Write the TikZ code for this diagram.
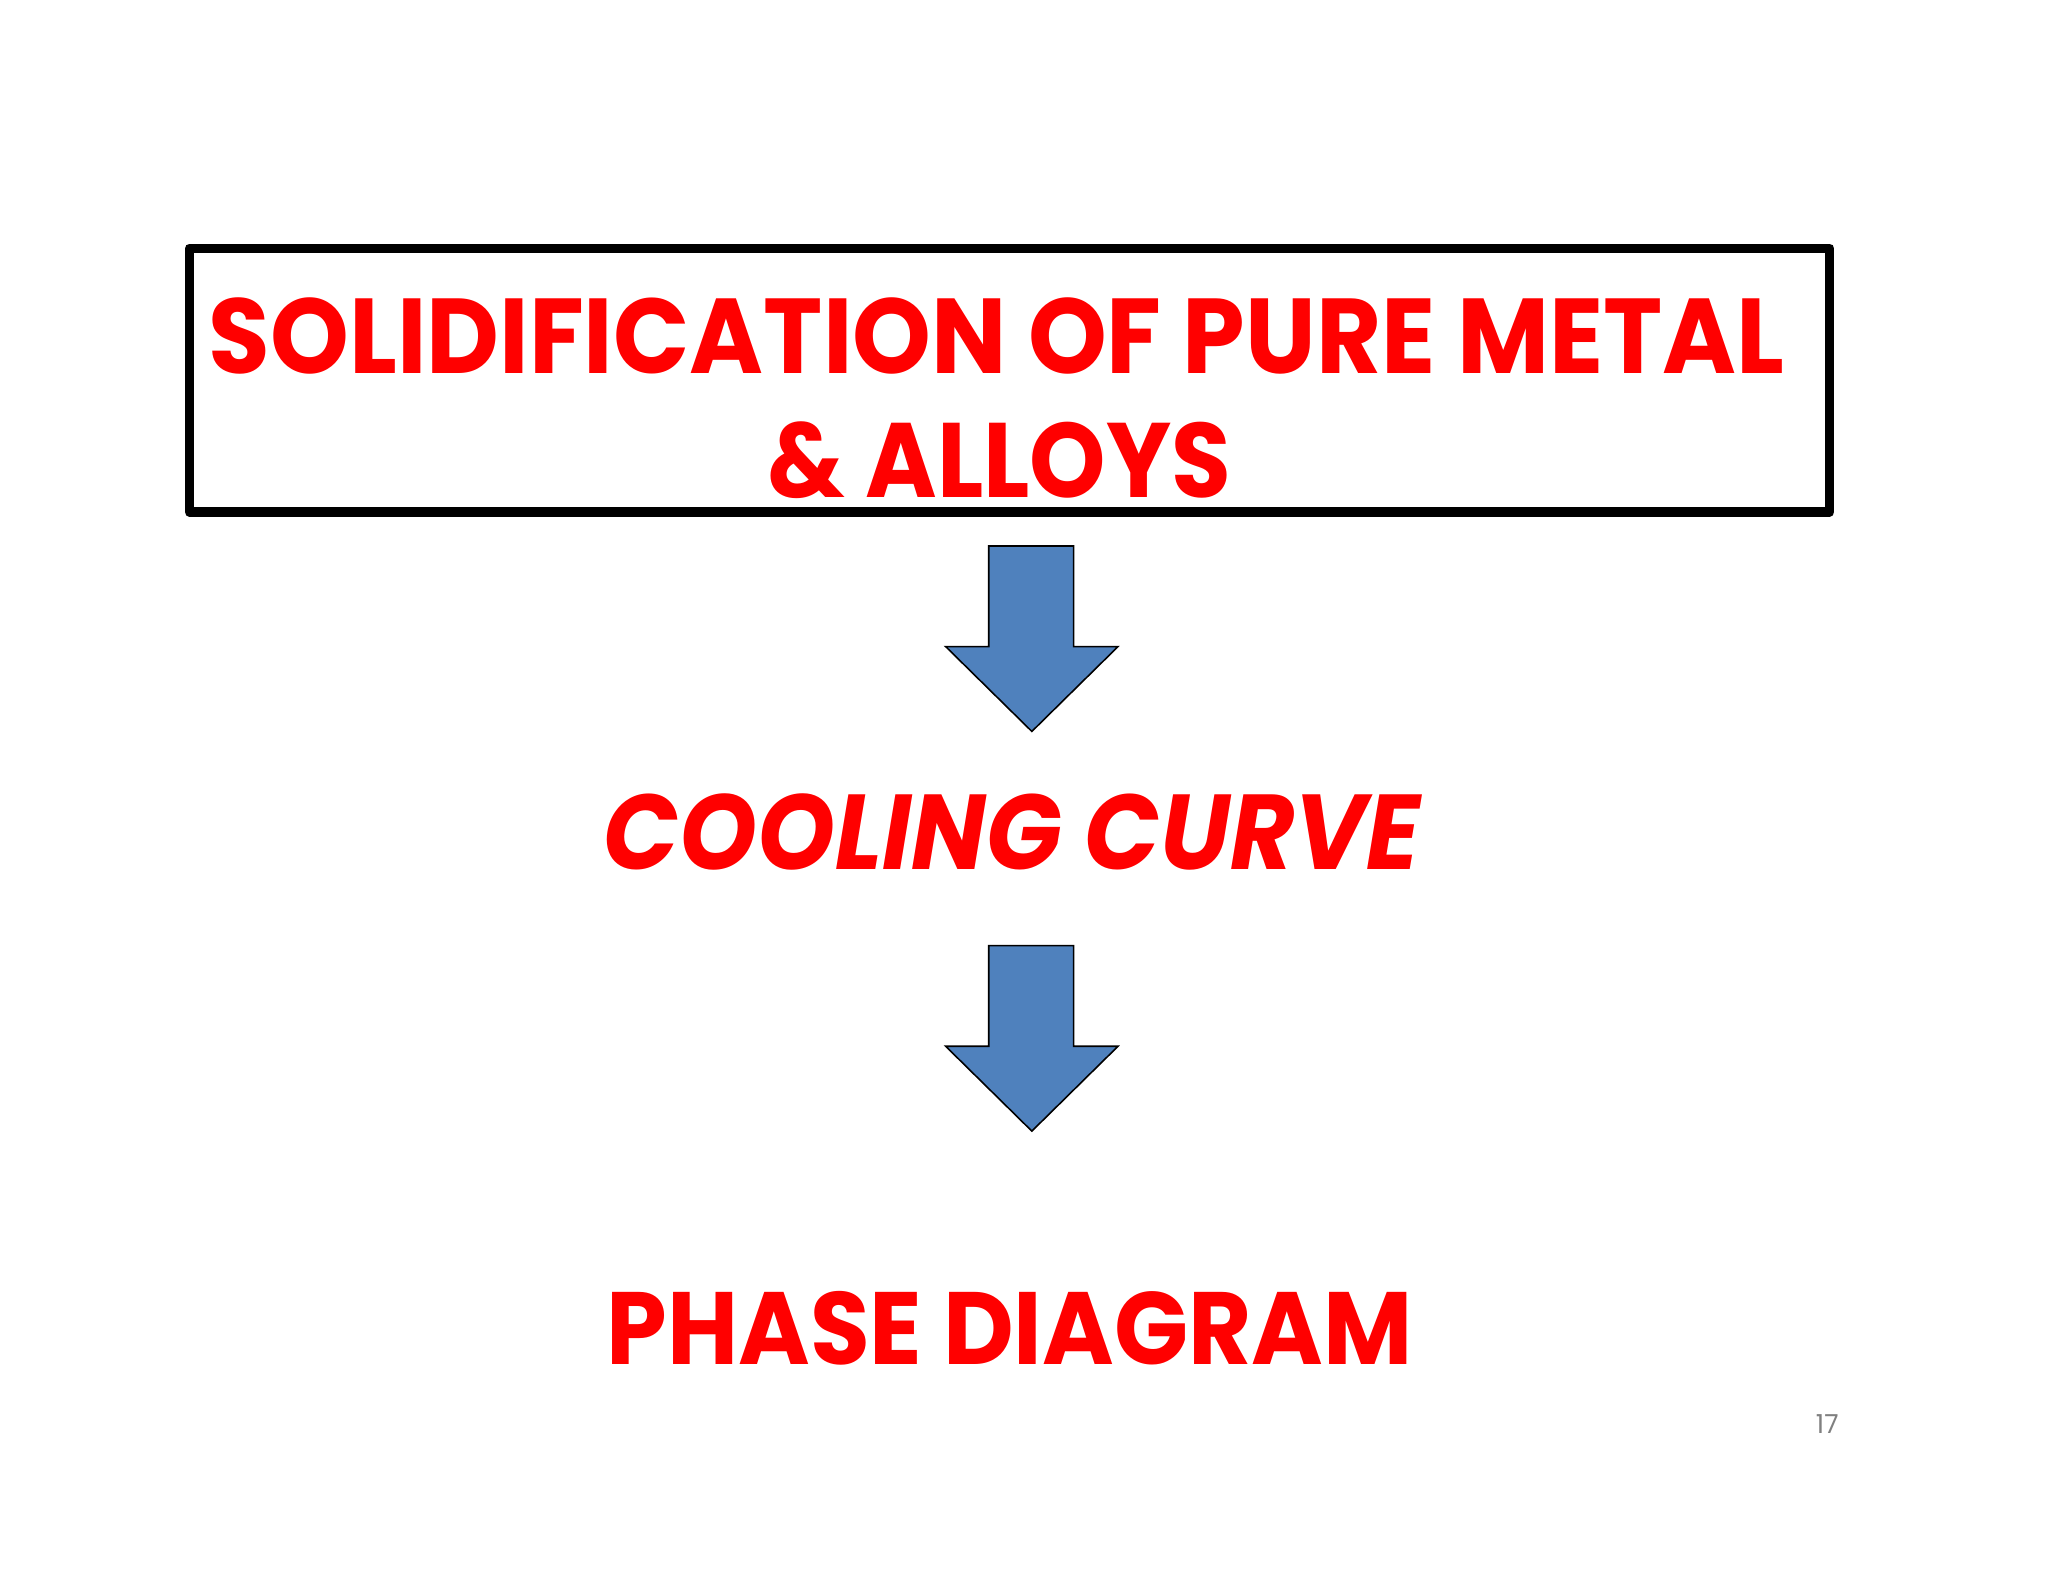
\documentclass[tikz,border=0pt]{standalone}
\usepackage{fontspec}
\setmainfont{Poppins}
\usepackage{graphicx}
\definecolor{tred}{HTML}{FF0000}
\definecolor{ablue}{HTML}{4F81BD}
\begin{document}
\begin{tikzpicture}[x=1pt,y=-1pt,
  txt/.style={text=tred,font=\bfseries,inner sep=0pt},
  barrow/.style={fill=ablue,draw=black,line width=1.2pt,line join=miter}]
\useasboundingbox[fill=white] (0,0) rectangle (1568,1211);
\draw[line width=7pt,line join=round] (145,190) rectangle (1401,392);
\node[txt] (t1) at (763,257) {\resizebox{1206pt}{58pt}{SOLIDIFICATION OF PURE METAL}};
\node[txt] (t2) at (765,352) {\resizebox{355pt}{58pt}{\& ALLOYS}};
\draw[barrow] (757,418) -- (822,418) -- (822,495) -- (856,495) -- (790,560) -- (724,495) -- (757,495) -- cycle;
\node[txt] (t3) at (775,637) {\resizebox{625pt}{58pt}{\itshape COOLING CURVE}};
\draw[barrow] (757,724) -- (822,724) -- (822,801) -- (856,801) -- (790,866) -- (724,801) -- (757,801) -- cycle;
\node[txt] (t4) at (773,1017) {\resizebox{617pt}{56pt}{PHASE DIAGRAM}};
\node[text=gray,font=\fontsize{20}{24}\selectfont] (pg) at (1399,1090) {17};
\end{tikzpicture}
\end{document}
